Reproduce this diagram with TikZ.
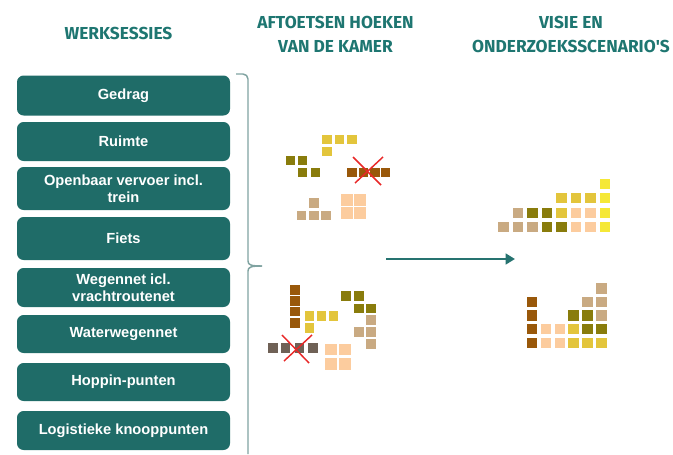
\documentclass[tikz,border=0pt]{standalone}
\usepackage{fontspec}
\setmainfont{Liberation Sans}
\newfontfamily\kopfont{Fira Sans}
\usetikzlibrary{arrows.meta}

\definecolor{sessieteal}{RGB}{31,108,104}
\definecolor{kopteal}{RGB}{30,118,113}
\definecolor{accoladegrijs}{RGB}{128,163,161}
\definecolor{pijlteal}{RGB}{38,115,112}
\definecolor{goud}{RGB}{227,197,60}
\definecolor{citroen}{RGB}{245,232,55}
\definecolor{olijf}{RGB}{137,124,12}
\definecolor{bruin}{RGB}{153,88,10}
\definecolor{zand}{RGB}{201,170,130}
\definecolor{perzik}{RGB}{252,204,158}
\definecolor{donker}{RGB}{111,97,86}
\definecolor{kruisrood}{RGB}{232,40,40}

\begin{document}
\begin{tikzpicture}[x=0.75pt, y=-0.75pt,
  sessie/.style={rectangle, rounded corners=5pt, fill=sessieteal, text=white,
    font=\bfseries\fontsize{11}{13}\selectfont, align=center,
    minimum width=159.75pt, inner sep=0pt},
  kop/.style={text=kopteal, font=\kopfont\bfseries\fontsize{13}{18.2}\selectfont,
    align=center},
  blok/.style={rectangle, inner sep=0pt, outer sep=0pt, minimum size=7.2pt},
  blokgroot/.style={blok, minimum size=7.8pt},
  blokperzik/.style={blok, minimum size=8.6pt, fill=perzik},
  accolade/.style={draw=accoladegrijs, line width=1.1pt},
  pijl/.style={draw=pijlteal, line width=2.2pt, -{Triangle[length=7pt,width=8pt]}},
  kruis/.style={draw=kruisrood, line width=1.1pt}]
  \useasboundingbox (0,0) rectangle (673,454);

  % kolomkoppen
  \node[kop] (kopsessies) at (118.5,33.5) {WERKSESSIES};
  \node[kop] (kophoeken) at (335.5,34.5) {AFTOETSEN HOEKEN\\VAN DE KAMER};
  \node[kop] (kopvisie) at (571,34.5) {VISIE EN\\ONDERZOEKSSCENARIO'S};

  % werksessies
  \node[sessie, minimum height=30pt] (gedrag) at (123.5,95.5) {Gedrag};
  \node[sessie, minimum height=29.25pt] (ruimte) at (123.5,141.5) {Ruimte};
  \node[sessie, minimum height=32.25pt] (ov) at (123.5,188.5) {Openbaar vervoer incl.\\trein};
  \node[sessie, minimum height=32.25pt] (fiets) at (123.5,238.5) {Fiets};
  \node[sessie, minimum height=29.25pt] (wegennet) at (123.5,287.5) {Wegennet icl.\\vrachtroutenet};
  \node[sessie, minimum height=28.5pt] (water) at (123.5,334) {Waterwegennet};
  \node[sessie, minimum height=28.5pt] (hoppin) at (123.5,382) {Hoppin-punten};
  \node[sessie, minimum height=29.25pt] (logistiek) at (123.5,430.5) {Logistieke knooppunten};

  % accolade langs de sessies
  \coordinate (accboven) at (236,74);
  \coordinate (accpunt) at (262,266);
  \coordinate (acconder) at (248,454);
  \draw[accolade] (accboven) -- (243,74) to[out=0,in=90] (248,79) -- (248,261)
    .. controls (248,265) and (251,266) .. (accpunt);
  \draw[accolade] (accpunt) .. controls (251,266) and (248,267) .. (248,271) -- (acconder);

  % hoeken van de kamer, boven
  \foreach \p in {(327,139.5),(339.5,139.5),(352,139.5),(327,151.5)}
    \node[blok, fill=goud] at \p {};
  \foreach \p in {(290.5,160.5),(302.5,160.5),(302.5,172.5),(315.5,172.5)}
    \node[blok, fill=olijf] at \p {};
  \foreach \p in {(352,172.5),(363.5,172.5),(375,172.5),(385.5,172.5)}
    \node[blok, fill=bruin] at \p {};
  \foreach \p in {(314,203),(301.5,215.5),(314,215.5),(326,215.5)}
    \node[blok, fill=zand] at \p {};
  \foreach \p in {(347,200),(360,200),(347,213),(360,213)}
    \node[blokperzik] at \p {};
  \draw[kruis] (353,157) -- (381,185);
  \draw[kruis] (383,157) -- (355,183);

  % hoeken van de kamer, onder
  \foreach \p in {(295,290),(295,301),(295,311.5),(295,323)}
    \node[blok, fill=bruin] at \p {};
  \foreach \p in {(309.5,316),(321.5,316),(333.5,316),(309.5,328)}
    \node[blok, fill=goud] at \p {};
  \foreach \p in {(346,296),(359,296),(359,308.5),(371,308.5)}
    \node[blok, fill=olijf] at \p {};
  \foreach \p in {(371,320),(359,332),(371,332),(371,344)}
    \node[blok, fill=zand] at \p {};
  \foreach \p in {(273,348),(285.5,348),(299.5,348),(313,348)}
    \node[blok, fill=donker] at \p {};
  \foreach \p in {(331,349.5),(345,349.5),(331,364),(345,364)}
    \node[blokperzik] at \p {};
  \draw[kruis] (282,335) -- (309,363);
  \draw[kruis] (312,335) -- (284,361);

  % pijl naar de scenario's
  \coordinate (pijlstart) at (386,259);
  \coordinate (pijleind) at (515,259);
  \draw[pijl] (pijlstart) -- (pijleind);

  % scenario boven
  \begin{scope}[shift={(488.8,241.7)}, x=10.875pt, y=10.875pt]
    \foreach \p in {(1,1),(2,1),(3,1),(2,2)} \node[blokgroot, fill=zand] at \p {};
    \foreach \p in {(4,1),(5,1),(3,2),(4,2)} \node[blokgroot, fill=olijf] at \p {};
    \foreach \p in {(5,2),(5,3),(6,3),(7,3)} \node[blokgroot, fill=goud] at \p {};
    \foreach \p in {(6,1),(7,1),(6,2),(7,2)} \node[blokgroot, fill=perzik] at \p {};
    \foreach \p in {(8,1),(8,2),(8,3),(8,4)} \node[blokgroot, fill=citroen] at \p {};
  \end{scope}

  % scenario onder
  \begin{scope}[shift={(518,356.3)}, x=10.425pt, y=10.2pt]
    \foreach \p in {(1,1),(1,2),(1,3),(1,4)} \node[blokgroot, fill=bruin] at \p {};
    \foreach \p in {(2,1),(3,1),(2,2),(3,2)} \node[blokgroot, fill=perzik] at \p {};
    \foreach \p in {(4,1),(5,1),(6,1),(4,2)} \node[blokgroot, fill=goud] at \p {};
    \foreach \p in {(5,2),(6,2),(4,3),(5,3)} \node[blokgroot, fill=olijf] at \p {};
    \foreach \p in {(6,3),(5,4),(6,4),(6,5)} \node[blokgroot, fill=zand] at \p {};
  \end{scope}
\end{tikzpicture}
\end{document}
